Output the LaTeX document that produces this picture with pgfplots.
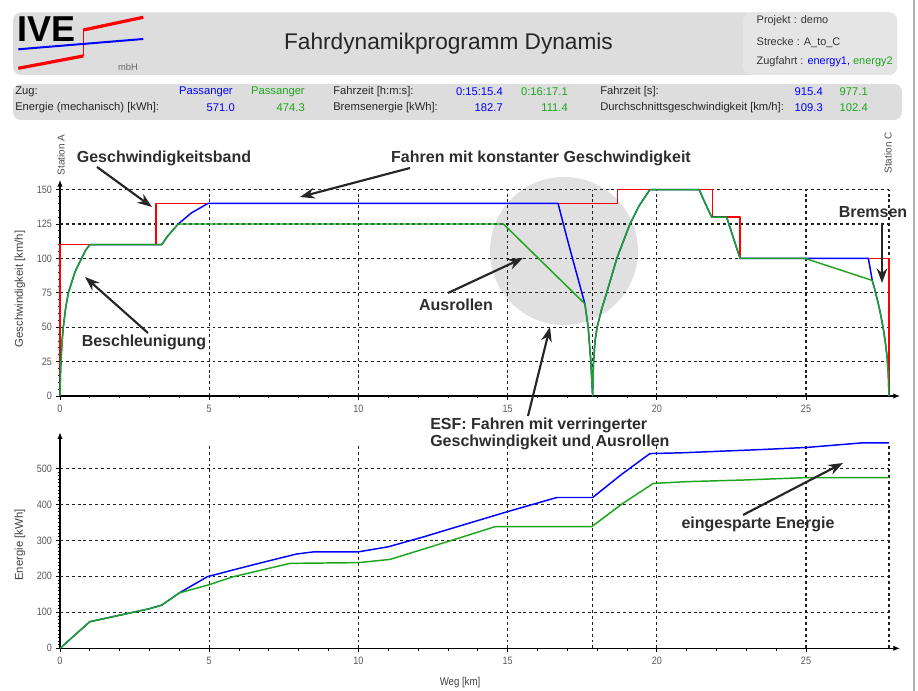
\documentclass[border=0pt]{standalone}
\usepackage{fontspec}
\setmainfont{Liberation Sans}
\usepackage{pgfplots}
\pgfplotsset{compat=1.18}
\usetikzlibrary{arrows.meta}

\definecolor{vblue}{RGB}{0,0,255}
\definecolor{vgreen}{RGB}{30,165,30}
\definecolor{vred}{RGB}{255,0,0}
\definecolor{panel}{RGB}{221,221,221}
\definecolor{panellight}{RGB}{229,229,229}
\definecolor{annot}{RGB}{45,45,45}

\newcommand\fsz[1]{\fontsize{#1}{#1}\selectfont}

\tikzset{
  gridline/.style={black!88, line width=0.95pt, dash pattern=on 2.2pt off 2.2pt},
  curve/.style={line width=1.1pt, line join=round},
}
\pgfplotsset{
  dyn/.style={
    scale only axis, width=630pt, height=162pt,
    xmin=0, xmax=28.15, ymin=0,
    axis lines=left,
    axis line style={line width=0.8pt, -{Latex[length=5pt,width=4pt]}},
    tick align=outside,
    major tick length=3pt, minor tick length=1.8pt,
    tick style={black, line width=0.6pt},
    xtick={0,5,...,25}, minor x tick num=4,
    ticklabel style={font=\fsz{8}, text=black!65, xscale=0.85},
    /pgf/number format/assume math mode=true,
    clip=false,
  },
}

\begin{document}
\begin{tikzpicture}[x=0.75pt, y=0.75pt]
\useasboundingbox (0,0) rectangle (918,691);

% ---- header panel ----
\fill[panel, rounded corners=6pt] (13,678.5) rectangle (897,616);
\fill[panellight, rounded corners=6pt] (743,678.5) rectangle (897,616);
% logo
\draw[vred, line width=2.4pt] (18.3,622.7) -- (83.3,635);
\draw[vred, line width=1.2pt] (83.3,635) -- (83.3,661);
\draw[vred, line width=2.4pt] (83.3,661) -- (143.3,673.7);
\draw[vblue, line width=1.5pt] (18.3,641.7) -- (143.3,652);
\node[anchor=west, inner sep=0pt, font=\bfseries\fsz{27}] at (17,662) {IVE};
\node[font=\fsz{7}, text=black!60] at (128,624) {mbH};
% title
\node[font=\fsz{17}, text=black!85] at (448.5,647.5) {Fahrdynamikprogramm Dynamis};
% project info
\node[anchor=west, font=\fsz{8.2}, text=black!80] at (752,670) {Projekt : demo};
\node[anchor=west, font=\fsz{8.2}, text=black!80] at (752,648) {Strecke : A\_to\_C};
\node[anchor=west, font=\fsz{8.2}, text=black!80] at (752,629) {Zugfahrt : \textcolor{vblue}{energy1,} \textcolor{vgreen}{energy2}};

% ---- summary table ----
\fill[panel, rounded corners=6pt] (13,607) rectangle (902,571);
\begin{scope}[every node/.style={font=\fsz{8.4}, inner sep=0pt, text=black!85}]
\node[anchor=west] at (15,599.3) {Zug:};
\node[anchor=east, text=vblue] at (233,599.3) {Passanger};
\node[anchor=east, text=vgreen] at (305,599.3) {Passanger};
\node[anchor=west] at (333,599.3) {Fahrzeit [h:m:s]:};
\node[anchor=east, text=vblue] at (503,599.3) {0:15:15.4};
\node[anchor=east, text=vgreen] at (568,599.3) {0:16:17.1};
\node[anchor=west] at (600,599.3) {Fahrzeit [s]:};
\node[anchor=east, text=vblue] at (823,599.3) {915.4};
\node[anchor=east, text=vgreen] at (868,599.3) {977.1};
\node[anchor=west] at (15,583.3) {Energie (mechanisch) [kWh]:};
\node[anchor=east, text=vblue] at (235,583.3) {571.0};
\node[anchor=east, text=vgreen] at (305,583.3) {474.3};
\node[anchor=west] at (333,583.3) {Bremsenergie [kWh]:};
\node[anchor=east, text=vblue] at (503,583.3) {182.7};
\node[anchor=east, text=vgreen] at (568,583.3) {111.4};
\node[anchor=west] at (600,583.3) {Durchschnittsgeschwindigkeit [km/h]:};
\node[anchor=east, text=vblue] at (823,583.3) {109.3};
\node[anchor=east, text=vgreen] at (868,583.3) {102.4};
\end{scope}

% right frame edge
\draw[black!30, line width=1.5pt] (914,0) -- (914,691);

% highlighted region (reduced speed and coasting)
\fill[black!12] (564,440) circle [radius=55.5pt];

% ---- speed profile ----
\begin{axis}[dyn, at={(45pt,221.25pt)}, anchor=south west,
  ymax=157, ytick={0,25,...,150}, minor y tick num=4]
  \pgfplotsinvokeforeach{25,50,75,100,125,150}{
    \draw[gridline] (axis cs:0,#1) -- (axis cs:27.78,#1);}
  \pgfplotsinvokeforeach{5,10,15,17.85,20,25,27.78}{
    \draw[gridline] (axis cs:#1,0) -- (axis cs:#1,150);}
  % speed limit
  \addplot[vred, curve] coordinates {(0,0) (0,110) (3.22,110) (3.22,140)
    (18.68,140) (18.68,150) (21.86,150) (21.86,130) (22.79,130) (22.79,100)
    (27.78,100) (27.78,0)};
  % energy1
  \addplot[vblue, curve] coordinates {(0,0) (0.01,12) (0.03,25) (0.07,40)
    (0.11,50) (0.19,64) (0.28,75) (0.5,90) (0.72,100) (0.86,106) (1.0,110)
    (3.41,110) (3.6,116) (3.96,125) (4.4,133) (4.96,140) (16.69,140)
    (17.0,114) (17.3,90) (17.59,67) (17.7,50) (17.79,25) (17.85,0)
    (17.86,12) (17.88,25) (17.93,40) (18.0,50) (18.15,63) (18.32,75)
    (18.66,100) (19.1,125) (19.4,138) (19.77,150) (21.42,150) (21.6,141)
    (21.84,130) (22.34,130) (22.55,116) (22.79,100) (27.09,100) (27.22,84)
    (27.30,77.8) (27.40,69.2) (27.50,59.4) (27.60,47.6) (27.67,37.2)
    (27.72,27.5) (27.76,15.9) (27.78,0)};
  % energy2
  \addplot[vgreen, curve] coordinates {(0,0) (0.01,12) (0.03,25) (0.07,40)
    (0.11,50) (0.19,64) (0.28,75) (0.5,90) (0.72,100) (0.86,106) (1.0,110)
    (3.41,110) (3.6,116) (3.96,125) (14.86,125) (16.2,96.5) (17.59,67)
    (17.7,50) (17.79,25) (17.85,0)
    (17.86,12) (17.88,25) (17.93,40) (18.0,50) (18.15,63) (18.32,75)
    (18.66,100) (19.1,125) (19.4,138) (19.77,150) (21.42,150) (21.6,141)
    (21.84,130) (22.34,130) (22.55,116) (22.79,100) (24.97,100) (27.22,84)
    (27.30,77.8) (27.40,69.2) (27.50,59.4) (27.60,47.6) (27.67,37.2)
    (27.72,27.5) (27.76,15.9) (27.78,0)};
\end{axis}

% ---- cumulative energy ----
\begin{axis}[dyn, at={(45pt,32pt)}, anchor=south west,
  ymax=600, ytick={0,100,...,500}, minor y tick num=9]
  \pgfplotsinvokeforeach{100,200,300,400,500}{
    \draw[gridline] (axis cs:0,#1) -- (axis cs:27.78,#1);}
  \pgfplotsinvokeforeach{5,10,15,17.85,20,25,27.78}{
    \draw[gridline] (axis cs:#1,0) -- (axis cs:#1,565);}
  \addplot[vblue, curve] coordinates {(0,0) (1.0,74) (2.0,92) (3.0,110)
    (3.41,120) (4.0,154) (4.94,199) (6.0,222) (7.0,243) (7.93,262) (8.5,268)
    (10.0,268) (11.0,282) (12.2,310) (13.4,340) (14.97,379) (16.65,419)
    (17.85,419) (18.8,482) (19.77,541) (20.78,543) (23.46,552) (25.02,558)
    (26.92,571) (27.78,571)};
  \addplot[vgreen, curve] coordinates {(0,0) (1.0,74) (2.0,92) (3.0,110)
    (3.41,120) (4.0,154) (4.97,176) (5.81,199) (7.71,236) (10.0,238)
    (11.06,247) (13.4,307) (14.58,338) (17.82,338) (18.85,402) (19.88,458)
    (21.0,463) (22.9,467.5) (25.02,474.3) (27.78,474.3)};
\end{axis}

% axis titles and station marks
\node[rotate=90, font=\fsz{8.5}, text=black!75] at (20,402) {Geschwindigkeit [km/h]};
\node[rotate=90, font=\fsz{8.5}, text=black!75] at (20,146) {Energie [kWh]};
\node[font=\fsz{8.5}, text=black!75, xscale=0.85] at (460,8) {Weg [km]};
\node[rotate=90, font=\fsz{7.5}, text=black!70] at (61,536) {Station A};
\node[rotate=90, font=\fsz{7.5}, text=black!70] at (888,538) {Station C};

% ---- annotations ----
\begin{scope}[every node/.style={font=\bfseries\fsz{12}, text=annot, inner sep=0pt},
  arr/.style={black!85, line width=1.6pt, -{Stealth[length=11pt,width=8pt]}}]
\node at (164,533) {Geschwindigkeitsband};
\draw[arr] (97,524) -- (152,484);
\node at (541,533) {Fahren mit konstanter Geschwindigkeit};
\draw[arr] (410,523) -- (300,494);
\node at (144,349) {Beschleunigung};
\draw[arr] (148,358) -- (85,414);
\node at (456,386) {Ausrollen};
\draw[arr] (448,398) -- (523,433);
\node[anchor=west] at (430,266) {ESF: Fahren mit verringerter};
\node[anchor=west] at (430,249) {Geschwindigkeit und Ausrollen};
\draw[arr] (528,275) -- (550,364);
\node at (873,479) {Bremsen};
\draw[arr] (882,468) -- (882,408);
\node at (758,167) {eingesparte Energie};
\draw[arr] (743,176) -- (843,228);
\end{scope}
\end{tikzpicture}
\end{document}
